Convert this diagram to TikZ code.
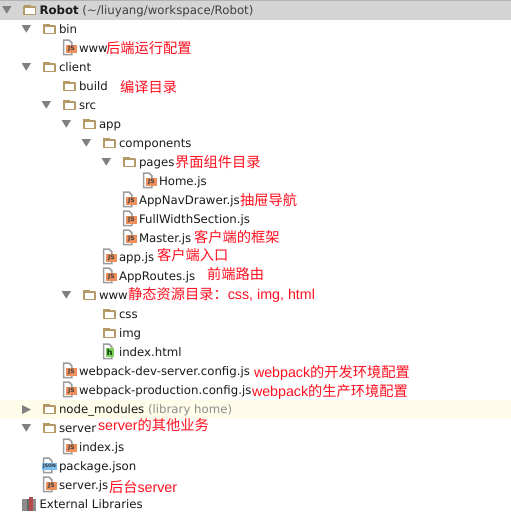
\documentclass[tikz,border=0pt]{standalone}
\usepackage{fontspec}
\setmainfont{DejaVu Sans}
\newfontfamily\cjk{Noto Sans CJK SC}
\newfontfamily\lab{Liberation Sans}
\definecolor{folderc}{HTML}{B59A68}
\definecolor{trianglec}{HTML}{808080}
\definecolor{pagec}{HTML}{9C9C9C}
\definecolor{jsc}{HTML}{EE8F5C}
\definecolor{rowgray}{HTML}{D4D4D4}
\definecolor{rowyellow}{HTML}{FFFDE9}
\definecolor{redc}{HTML}{FF1020}
\definecolor{treetext}{HTML}{1A1A1A}
\definecolor{jsonc}{HTML}{7CBDF0}
\definecolor{htmlc}{HTML}{7FD05A}
\tikzset{
  item/.style={anchor=base west,inner sep=0pt,outer sep=0pt,text=treetext,font=\fontsize{11.75}{14}\selectfont},
  note/.style={anchor=base west,inner sep=0pt,outer sep=0pt,text=redc,font=\fontsize{14.25}{16}\lab},
  tag/.style={inner sep=0pt,outer sep=0pt,font=\fontsize{6}{6}\bfseries\selectfont},
  foldershape/.style={draw=folderc,line width=1.8pt,fill=white,line join=round},
  arrowshape/.style={fill=trianglec},
  pageshape/.style={draw=pagec,line width=1.5pt,fill=white}
}
% text x, row y centre
\newcommand{\rowtext}[4]{\node[item] (#1) at (#2,#3+4.2) {#4};}
\newcommand{\rownote}[4]{\node[note] (#1) at (#2,#3+5) {#4};}
\newcommand{\folderico}[2]{%
  \path[foldershape] (#1-15.2,#2-3) rectangle (#1-4,#2+4.4);
  \fill[folderc] (#1-16,#2-4.6) rectangle (#1-9,#2-2.2);}
\newcommand{\opentri}[2]{\path[arrowshape] (#1-37.4,#2-4) -- (#1-28,#2-4) -- (#1-32.7,#2+3.7) -- cycle;}
\newcommand{\pageico}[2]{\path[pageshape] (#1-15.3,#2-8) -- (#1-10,#2-8) -- (#1-7.2,#2-5.2) -- (#1-7.2,#2+6.5) -- (#1-15.3,#2+6.5) -- cycle;}
\newcommand{\jsico}[3]{\pageico{#2}{#3}
  \fill[jsc] (#2-13,#3-3) rectangle (#2-2.2,#3+5);
  \node[tag,text=black!75] (#1) at (#2-7.6,#3+1) {JS};}
\begin{document}
\begin{tikzpicture}[x=1pt,y=-1pt]
\useasboundingbox (0,0) rectangle (511,520);
\fill[white] (0,0) rectangle (511,520);
\fill[rowgray] (0,0) rectangle (511,20);
\fill[black!30] (0,0) rectangle (511,1);
\fill[rowyellow] (0,400) rectangle (511,419);
% triangles
\opentri{39.5}{10} \opentri{59}{29} \opentri{59}{67} \opentri{79}{105} \opentri{99}{124}
\opentri{119}{143} \opentri{139}{162} \opentri{99}{295} \opentri{59}{428}
\path[arrowshape] (22,405) -- (31,409.5) -- (22,414) -- cycle;
% folders
\folderico{39.5}{10} \folderico{59}{29} \folderico{59}{67} \folderico{79}{86} \folderico{79}{105}
\folderico{99}{124} \folderico{119}{143} \folderico{139}{162} \folderico{99}{295}
\folderico{119}{314} \folderico{119}{333} \folderico{59}{409} \folderico{59}{428}
% js files
\jsico{j1}{79}{48} \jsico{j2}{159}{181} \jsico{j3}{139}{200} \jsico{j4}{139}{219} \jsico{j5}{139}{238}
\jsico{j6}{119}{257} \jsico{j7}{119}{276} \jsico{j8}{79}{371} \jsico{j9}{79}{390} \jsico{j10}{79}{447} \jsico{j11}{59}{485}
% html
\pageico{119}{352}
\fill[htmlc] (119-13,352-4) rectangle (119-5.5,352+5);
\node[tag,text=black!80!green,font=\fontsize{8}{8}\bfseries\selectfont] (hico) at (119-9.3,352+0.5) {h};
% json
\pageico{59}{466}
\fill[jsonc] (59-17,466-3) rectangle (59-2,466+4);
\node[tag,text=black!80,font=\fontsize{4.6}{5}\bfseries\selectfont] (jsonico) at (59-9.5,466+0.5) {JSON};
% libraries
\fill[black!45] (22,499) rectangle (27,511);
\fill[black!60] (27,499) rectangle (29,511);
\fill[red!40!gray] (29,497) rectangle (33,511);
\fill[black!45] (33,499) rectangle (36,511);
% tree text
\rowtext{t1}{39.5}{10}{\textbf{Robot} \textcolor{black!75}{(\textasciitilde/liuyang/workspace/Robot)}}
\rowtext{t2}{59}{29}{bin}
\rowtext{t3}{79}{48}{www}
\rowtext{t4}{59}{67}{client}
\rowtext{t5}{79}{86}{build}
\rowtext{t6}{79}{105}{src}
\rowtext{t7}{99}{124}{app}
\rowtext{t8}{119}{143}{components}
\rowtext{t9}{139}{162}{pages}
\rowtext{t10}{159}{181}{Home.js}
\rowtext{t11}{139}{200}{AppNavDrawer.js}
\rowtext{t12}{139}{219}{FullWidthSection.js}
\rowtext{t13}{139}{238}{Master.js}
\rowtext{t14}{119}{257}{app.js}
\rowtext{t15}{119}{276}{AppRoutes.js}
\rowtext{t16}{99}{295}{www}
\rowtext{t17}{119}{314}{css}
\rowtext{t18}{119}{333}{img}
\rowtext{t19}{119}{352}{index.html}
\rowtext{t20}{79}{371}{webpack-dev-server.config.js}
\rowtext{t21}{79}{390}{webpack-production.config.js}
\rowtext{t22}{59}{409}{node\_modules \textcolor{black!45}{(library home)}}
\rowtext{t23}{59}{428}{server}
\rowtext{t24}{79}{447}{index.js}
\rowtext{t25}{59}{466}{package.json}
\rowtext{t26}{59}{485}{server.js}
\rowtext{t27}{39.5}{504}{External Libraries}
% red notes
\rownote{n1}{106}{48}{\cjk 后端运行配置}
\rownote{n2}{120}{87}{\cjk 编译目录}
\rownote{n3}{175}{162}{\cjk 界面组件目录}
\rownote{n4}{240}{200}{\cjk 抽屉导航}
\rownote{n5}{194}{237}{\cjk 客户端的框架}
\rownote{n6}{157}{255}{\cjk 客户端入口}
\rownote{n7}{207}{274}{\cjk 前端路由}
\rownote{n8}{128}{294}{{\cjk 静态资源目录：}\hspace{0.1pt}css, img, html}
\rownote{n9}{254}{372}{webpack{\cjk 的开发环境配置}}
\rownote{n10}{252}{391}{webpack{\cjk 的生产环境配置}}
\rownote{n11}{98}{425}{server{\cjk 的其他业务}}
\rownote{n12}{109}{487}{{\cjk 后台}server}
\end{tikzpicture}
\end{document}
